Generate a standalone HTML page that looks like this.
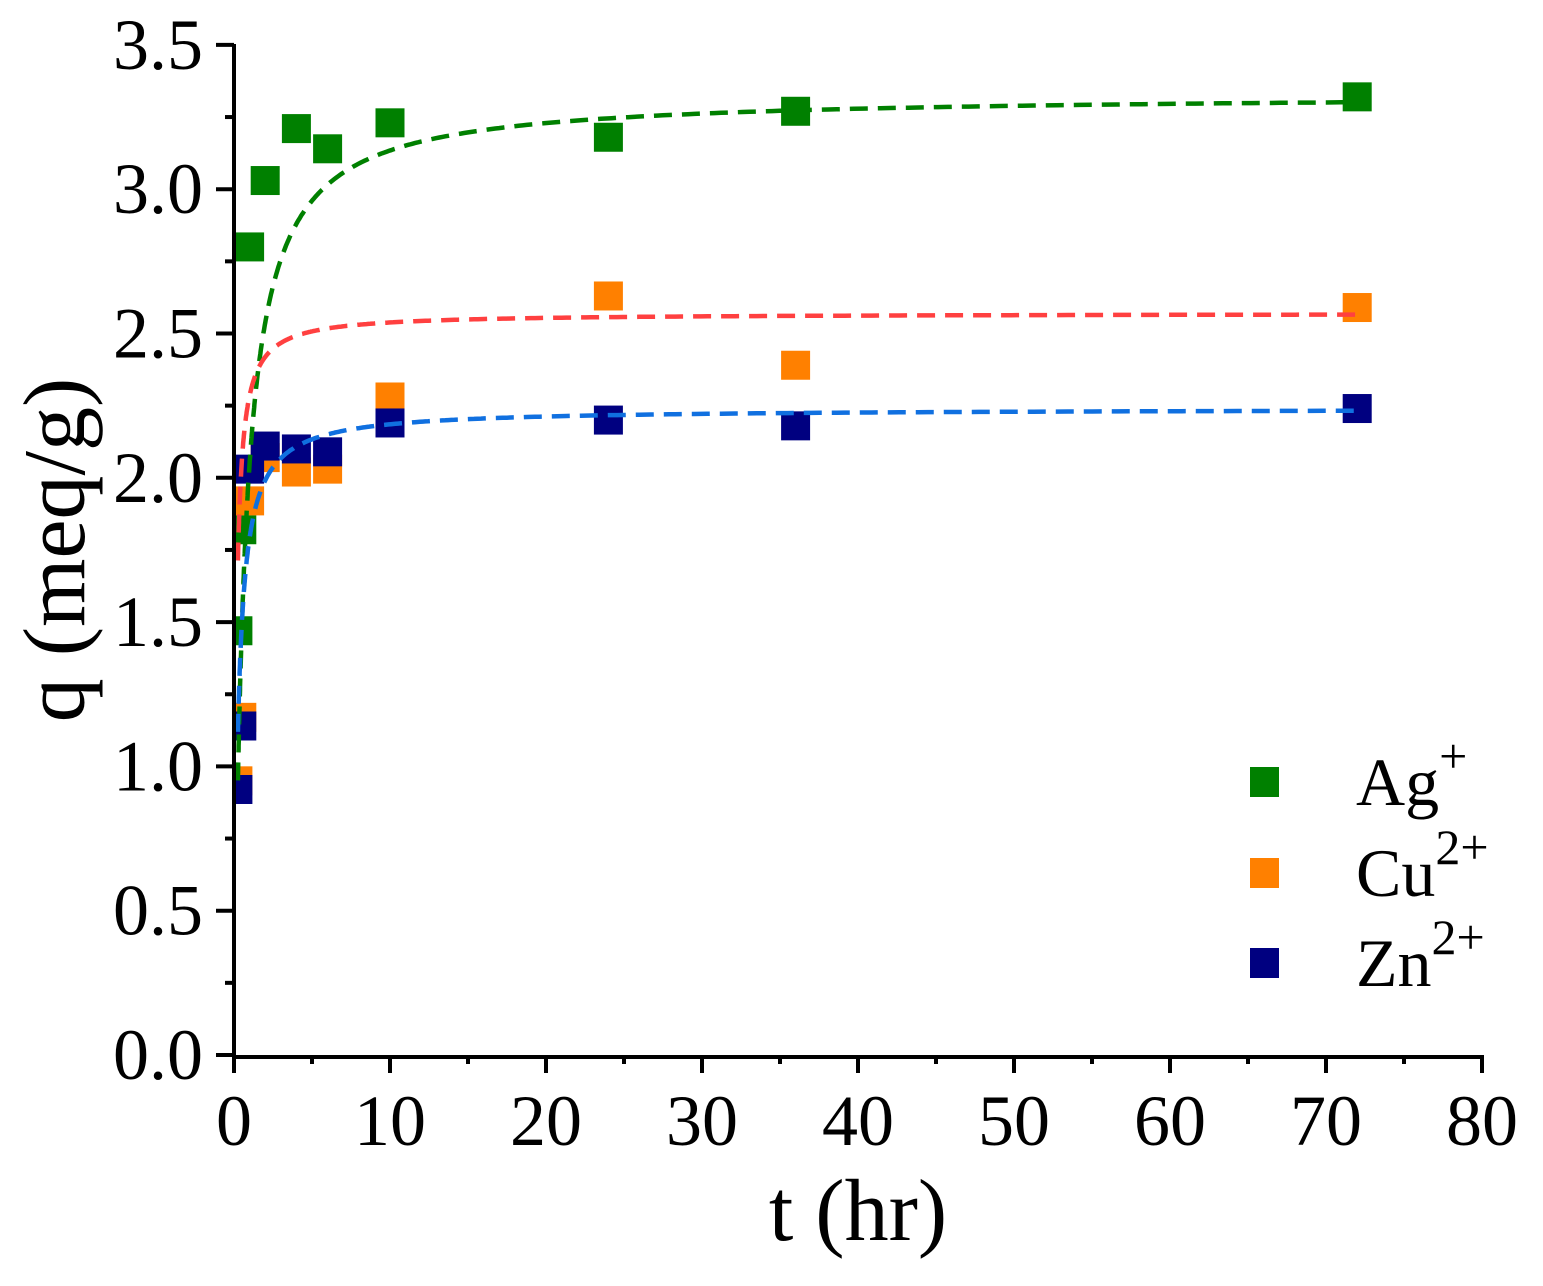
<!DOCTYPE html>
<html><head><style>body{margin:0;background:#fff}svg{display:block}text{font-family:"Liberation Serif",serif}</style></head><body>
<svg id="s" width="1543" height="1286" xmlns="http://www.w3.org/2000/svg" style='font-family:"Liberation Serif",serif'></svg>
<script>
const X=t=>234+t*15.6, Y=q=>1055-q*288.6;
let h='';
function fit(qe,a,col,t0){let p='';for(let i=0;i<=400;i++){let t=t0*Math.pow(72/t0,i/400);let q=qe*a*t/(1+a*t);p+=(i?'L':'M')+X(t).toFixed(1)+' '+Y(q).toFixed(1);}
return `<path d="${p}" fill="none" stroke="${col}" stroke-width="4.5" stroke-dasharray="18 10"/>`;}
const ag=[[0.25,1.47],[0.5,1.82],[1,2.80],[2,3.03],[4,3.21],[6,3.14],[10,3.23],[24,3.18],[36,3.27],[72,3.32]];
const cu=[[0.25,0.95],[0.5,1.17],[1,1.92],[2,2.07],[4,2.02],[6,2.03],[10,2.28],[24,2.63],[36,2.39],[72,2.59]];
const zn=[[0.25,0.92],[0.5,1.14],[1,2.03],[2,2.11],[4,2.10],[6,2.09],[10,2.19],[24,2.20],[36,2.18],[72,2.24]];
function pts(d,c){return d.map(([t,q])=>{let x=X(t)-14.5;let w=29;if(x<236){w-=236-x;x=236;}return `<rect x="${x}" y="${Y(q)-14.5}" width="${w}" height="29" fill="${c}"/>`}).join('');}
h+=pts(ag,'#008000')+pts(cu,'#ff8000')+pts(zn,'#000080');
h+=fit(3.33,1.6,'#008000',0.25)+fit(2.57,8,'#ff4040',0.25)+fit(2.24,4,'#1070e0',0.25);
h+=`<path d="M234 44V1057H1484" fill="none" stroke="#000" stroke-width="4"/>`;
for(let i=0;i<=14;i++){let y=Y(i*0.25),L=i%2?9:18;h+=`<line x1="${234-L}" x2="234" y1="${y}" y2="${y}" stroke="#000" stroke-width="4"/>`;
if(i%2==0)h+=`<text x="203" y="${y+24}" font-size="72" text-anchor="end">${(i*0.25).toFixed(1)}</text>`;}
for(let i=0;i<=16;i++){let x=X(i*5),L=i%2?9:18;h+=`<line x1="${x}" x2="${x}" y1="1055" y2="${1055+L}" stroke="#000" stroke-width="4"/>`;
if(i%2==0)h+=`<text x="${x}" y="1145" font-size="72" text-anchor="middle">${i*5}</text>`;}
h+=`<text x="858" y="1240" font-size="88" text-anchor="middle">t (hr)</text>`;
h+=`<text transform="translate(84,550) rotate(-90)" font-size="88" text-anchor="middle">q (meq/g)</text>`;
[['#008000','Ag','+',805],['#ff8000','Cu','2+',896],['#000080','Zn','2+',986]].forEach(([c,a,s,b])=>{
h+=`<rect x="1250" y="${b-38}" width="29" height="30" fill="${c}"/><text x="1356" y="${b}" font-size="68">${a}<tspan font-size="50" dy="-32">${s}</tspan></text>`;});
document.getElementById('s').innerHTML=h;
</script>
</body></html>
